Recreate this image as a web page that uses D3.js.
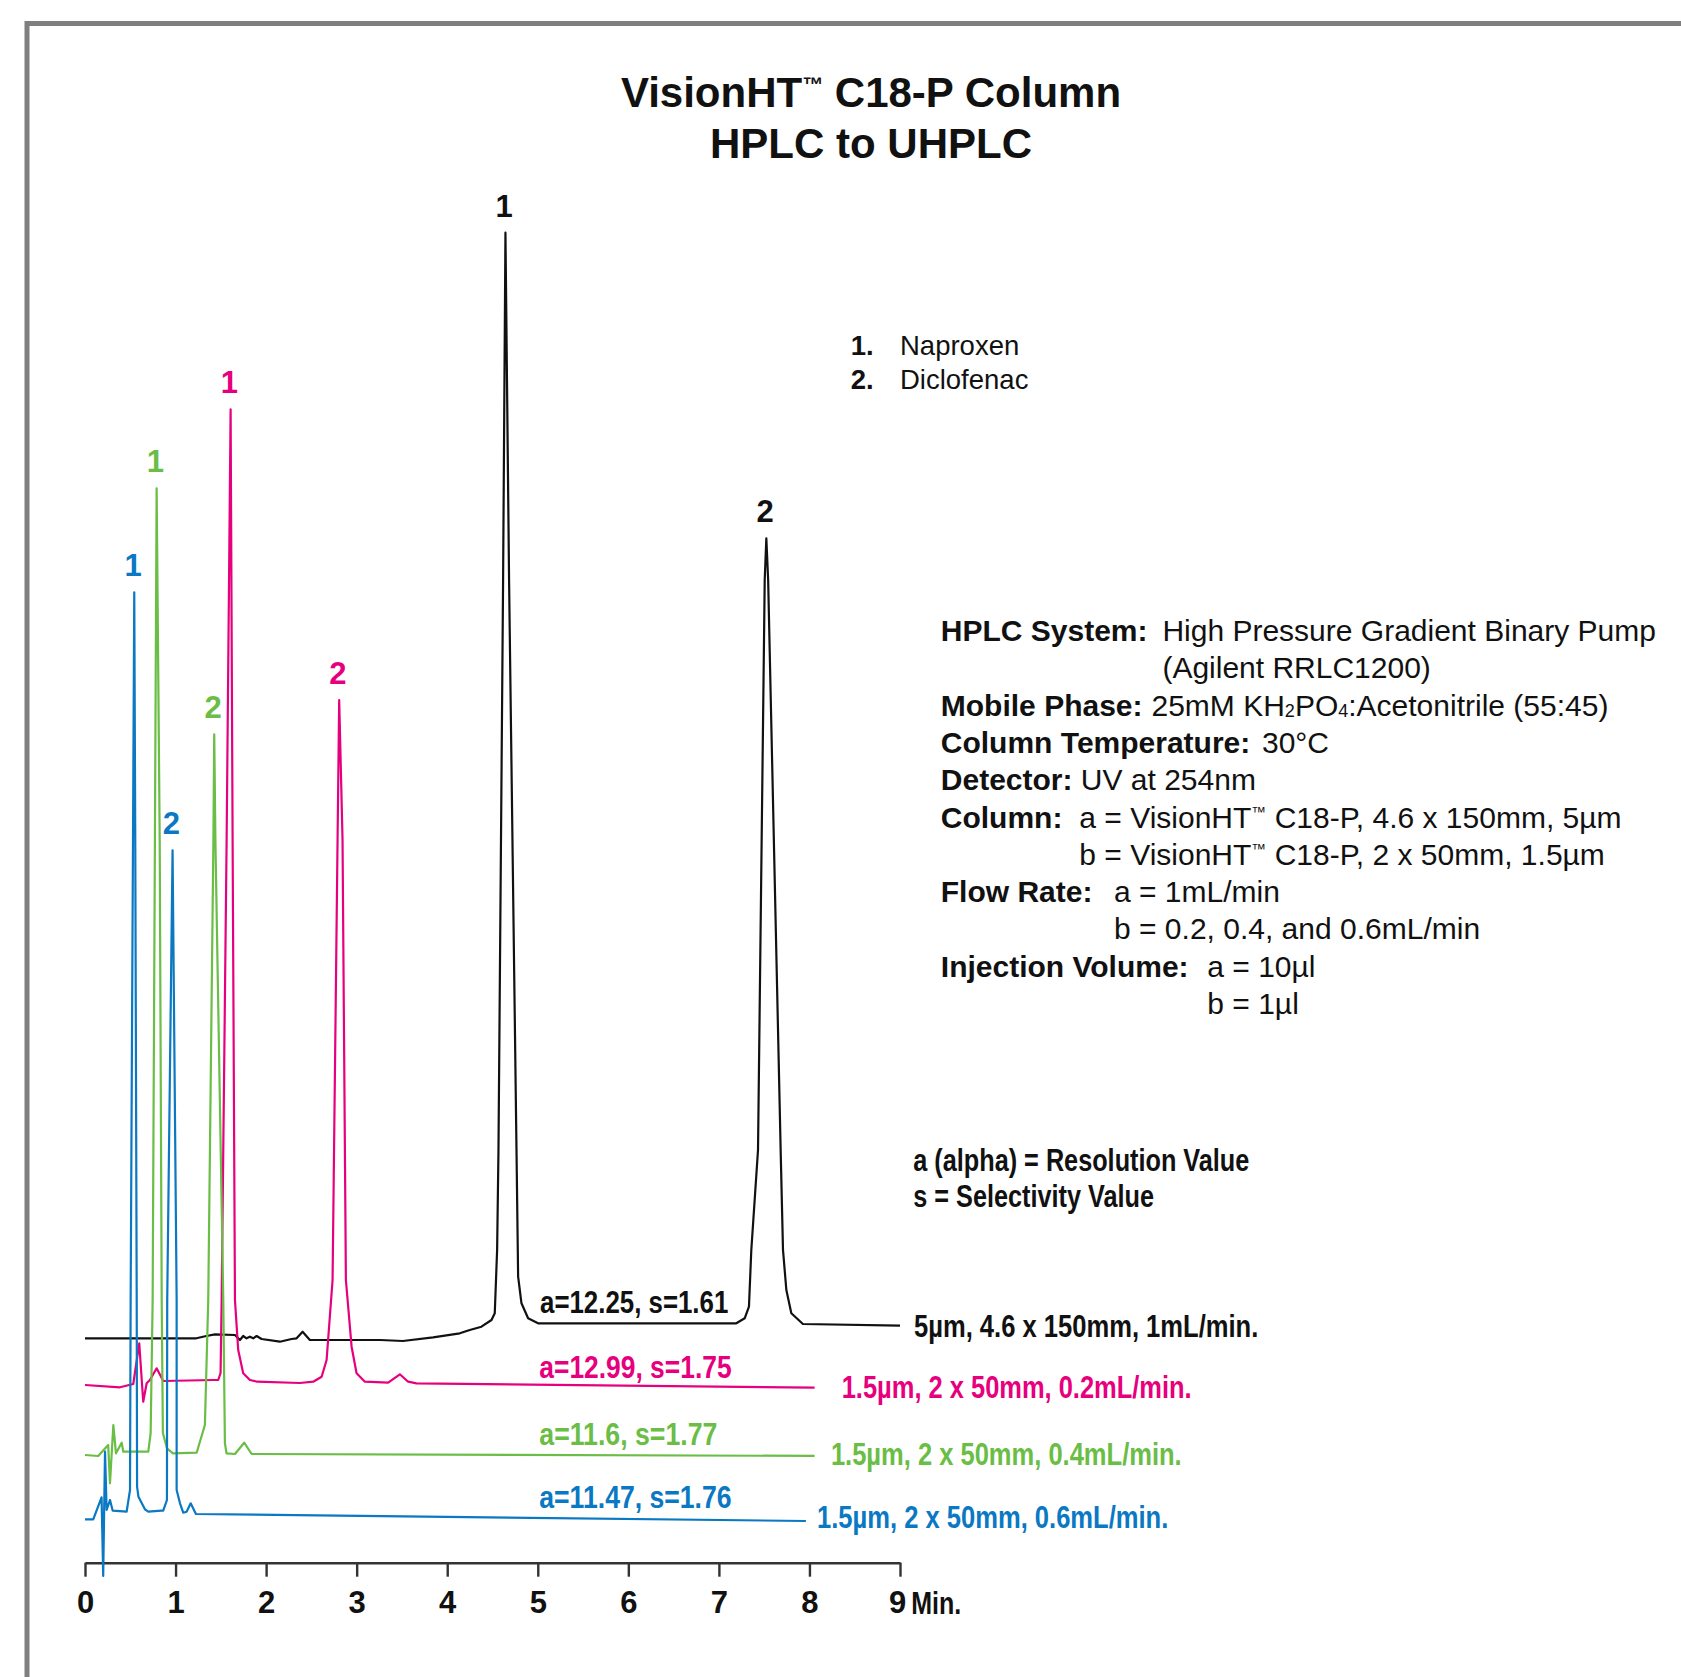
<!DOCTYPE html>
<html><head><meta charset="utf-8">
<script src="https://cdn.jsdelivr.net/npm/d3@7/dist/d3.min.js"></script>
<style>
html,body{margin:0;padding:0;background:#fff;}
svg{display:block;}
</style></head>
<body>
<svg id="chart" width="1681" height="1677"></svg>
<script>
// ================= DATA =================
const seriesNames = [
  "5µm, 4.6 x 150mm, 1mL/min.",
  "1.5µm, 2 x 50mm, 0.2mL/min.",
  "1.5µm, 2 x 50mm, 0.4mL/min.",
  "1.5µm, 2 x 50mm, 0.6mL/min."
];
const resolutionLabels = ["a=12.25, s=1.61", "a=12.99, s=1.75", "a=11.6, s=1.77", "a=11.47, s=1.76"];
const compounds = ["Naproxen", "Diclofenac"];
const xTickValues = [0, 1, 2, 3, 4, 5, 6, 7, 8, 9];
const xUnit = "Min.";

// vertical offset of each trace baseline (stacked display, signal units)
const traceOffsets = [224.4, 177.7, 107.7, 43.4];

// retention times of peak 1 (Naproxen) and peak 2 (Diclofenac) per trace
const peakTimes = [[4.643, 7.524], [1.608, 2.807], [0.791, 1.427], [0.544, 0.967]];

// [time (min), signal]
const trace5um = [[0,0],[1.23,0],[1.34,2.3],[1.435,4],[1.656,3.3],[1.711,-1.7],[1.747,2.3],[1.784,0],[1.821,1.6],[1.858,0],[1.895,2.3],[1.95,-0.7],[2.152,-3.4],[2.281,-0.7],[2.337,0],[2.403,6.6],[2.483,-1.7],[3.26,-1.7],[3.51,-2.7],[3.844,1],[4.139,5],[4.249,8.3],[4.378,11.6],[4.489,18.3],[4.525,25],[4.551,88.3],[4.566,188.3],[4.617,758.3],[4.643,1105.6],[4.683,758.3],[4.765,188.3],[4.783,61.6],[4.82,35],[4.893,20],[5.003,15],[7.193,15],[7.285,20],[7.332,31.6],[7.358,88.3],[7.432,188.3],[7.506,758.3],[7.524,800],[7.544,758.3],[7.682,188.3],[7.708,88.3],[7.745,48.3],[7.8,25],[7.928,14.3],[9.0,12.6]];
const trace02 = [[0,0],[0.386,-2.3],[0.533,1],[0.599,41.7],[0.643,-16.7],[0.681,1.7],[0.717,5],[0.791,16.7],[0.864,4],[1.416,5],[1.471,5],[1.497,12],[1.509,85],[1.564,545],[1.608,975.7],[1.63,545],[1.656,85],[1.692,35],[1.747,11.7],[1.821,5],[1.9,3.3],[2.373,2],[2.52,3.3],[2.613,8.3],[2.668,25],[2.734,105],[2.789,545],[2.807,685],[2.844,545],[2.881,105],[2.944,38.3],[2.999,11.7],[3.091,3.3],[3.348,2.3],[3.477,10.7],[3.568,3.3],[3.661,1.7],[8.057,-2.7]];
const trace04 = [[0,0],[0.146,-1],[0.256,10],[0.276,-28.3],[0.313,30],[0.342,1.7],[0.405,12.3],[0.423,3.3],[0.699,3.3],[0.725,22],[0.747,155],[0.772,615],[0.791,966.7],[0.825,615],[0.847,155],[0.86,22],[0.905,6.7],[0.971,1.7],[1.233,2.3],[1.324,30],[1.361,155],[1.418,615],[1.427,720.7],[1.44,615],[1.527,155],[1.545,11.7],[1.563,1.7],[1.656,1],[1.758,12.3],[1.84,1],[8.057,-0.9]];
const trace06 = [[0,0],[0.091,0],[0.183,22],[0.201,-56.7],[0.221,67.6],[0.239,9.3],[0.276,19.3],[0.306,8.6],[0.46,7.6],[0.497,29.3],[0.504,219.3],[0.53,679.3],[0.544,927],[0.555,679.3],[0.571,219.3],[0.575,32.6],[0.59,22.6],[0.662,10],[0.699,7.6],[0.846,8.6],[0.864,8.6],[0.905,19.3],[0.908,219.3],[0.967,669],[1.012,219.3],[1.012,29.3],[1.049,16],[1.085,6.6],[1.122,7.6],[1.167,16],[1.225,5.3],[7.961,-1.7]];
const traces = [trace5um, trace02, trace04, trace06];

const titleLines = ["VisionHT™ C18-P Column", "HPLC to UHPLC"];
const conditionLabels = ["HPLC System:", "", "Mobile Phase:", "Column Temperature:", "Detector:", "Column:", "", "Flow Rate:", "", "Injection Volume:", ""];
const conditionValues = [
  "High Pressure Gradient Binary Pump",
  "(Agilent RRLC1200)",
  "25mM KH₂PO₄:Acetonitrile (55:45)",
  "30°C",
  "UV at 254nm",
  "a = VisionHT™ C18-P, 4.6 x 150mm, 5µm",
  "b = VisionHT™ C18-P, 2 x 50mm, 1.5µm",
  "a = 1mL/min",
  "b = 0.2, 0.4, and 0.6mL/min",
  "a = 10µl",
  "b = 1µl"
];
const noteLines = ["a (alpha) = Resolution Value", "s = Selectivity Value"];

// ================= STYLE / LAYOUT =================
const colors = ["#111111", "#e6007e", "#6abd45", "#0a78c2"];
const SANS = "'Liberation Sans', Arial, Helvetica, sans-serif";
const COND = "'Liberation Sans Narrow', 'Liberation Sans', Arial, sans-serif";
const CS = 31; // condensed label font size
const layout = {
  xRange: [85, 900], yRange: [1562.7, 232.7], yDomain: [0, 1330],
  seriesLabelX: [914, 841.7, 830.9, 817],
  seriesLabelY: [1336.5, 1397.5, 1464.5, 1528],
  seriesLabelW: [344.3, 350, 350.8, 351.3],
  resLabelX: [540, 539.3, 539.3, 539.3],
  resLabelY: [1313, 1378, 1444.5, 1508],
  resLabelW: [188.3, 192.3, 178, 192.3],
  condValueX: [1162.4, 1162.4, 1151.5, 1262, 1080.8, 1079.3, 1079.3, 1114, 1114, 1207.3, 1207.3],
  condX: 940.8, condY0: 641, condDY: 37.3,
  noteX: 913.3, noteY: [1171, 1207], noteW: [336, 240.7]
};

const svg = d3.select("#chart");

// frame
svg.append("path").attr("d", "M27,1677V23.5H1681")
  .attr("fill", "none").attr("stroke", "#7f7f7f").attr("stroke-width", 5);

const x = d3.scaleLinear().domain([0, 9]).range(layout.xRange);
const y = d3.scaleLinear().domain(layout.yDomain).range(layout.yRange);
const line = d3.line().x(d => x(d[0])).y(d => y(d[1]));

// rich text helper: ™ superscript, ₂ ₄ subscripts
function rich(textSel, str, size) {
  const subs = {"₂": "2", "₄": "4"};
  let buf = "", pending = 0;
  const flush = () => {
    if (buf) {
      const ts = textSel.append("tspan").text(buf);
      if (pending) ts.attr("dy", pending);
      pending = 0; buf = "";
    }
  };
  for (const ch of str) {
    if (ch === "™") {
      flush();
      const up = size * 0.36;
      textSel.append("tspan").attr("font-size", size * 0.5).attr("dy", -up + pending).text("™");
      pending = up;
    } else if (subs[ch]) {
      flush();
      const dn = size * 0.03;
      textSel.append("tspan").attr("font-size", size * 0.6).attr("dy", dn + pending).text(subs[ch]);
      pending = -dn;
    } else buf += ch;
  }
  flush();
}

// title
titleLines.forEach((t, i) => {
  const tx = svg.append("text").attr("x", 871).attr("y", [107, 157.6][i])
    .attr("text-anchor", "middle").attr("font-family", SANS).attr("font-weight", "bold")
    .attr("font-size", 42).attr("fill", "#111");
  rich(tx, t, 42);
});

// axis
const axis = d3.axisBottom(x).tickValues(xTickValues).tickSize(14).tickSizeOuter(0).tickPadding(14);
const gA = svg.append("g").attr("transform", `translate(0,${layout.yRange[0]})`).call(axis);
gA.select(".domain").attr("stroke", "#333").attr("stroke-width", 2.4);
gA.selectAll(".tick line").attr("stroke", "#333").attr("stroke-width", 2.4);
gA.selectAll(".tick text").attr("font-family", COND).attr("font-weight", "bold")
  .attr("font-size", CS).attr("fill", "#111")
  .attr("dx", d => d === 9 ? -3 : 0);
svg.append("text").attr("x", x(9) + 11.3).attr("y", 1613.5).attr("font-family", COND)
  .attr("font-weight", "bold").attr("font-size", CS).attr("fill", "#111")
  .attr("textLength", 50).attr("lengthAdjust", "spacingAndGlyphs").text(xUnit);

// traces
traces.forEach((tr, i) => {
  const pts = tr.map(d => [d[0], d[1] + traceOffsets[i]]);
  svg.append("path").datum(pts).attr("d", line).attr("fill", "none")
    .attr("stroke", colors[i]).attr("stroke-width", i === 0 ? 2.2 : 2.2)
    .attr("stroke-linejoin", "round");
  // peak numbers
  peakTimes[i].forEach((pt, k) => {
    const apex = d3.least(tr, d => Math.abs(d[0] - pt));
    svg.append("text").attr("x", x(apex[0]) - 1.2).attr("y", y(apex[1] + traceOffsets[i]) - 16)
      .attr("text-anchor", "middle").attr("font-family", COND).attr("font-weight", "bold")
      .attr("font-size", CS).attr("fill", colors[i]).text(String(k + 1));
  });
  // resolution labels
  svg.append("text").attr("x", layout.resLabelX[i]).attr("y", layout.resLabelY[i])
    .attr("font-family", COND).attr("font-weight", "bold").attr("font-size", CS)
    .attr("fill", colors[i]).attr("textLength", layout.resLabelW[i])
    .attr("lengthAdjust", "spacingAndGlyphs").text(resolutionLabels[i]);
  // series labels
  svg.append("text").attr("x", layout.seriesLabelX[i]).attr("y", layout.seriesLabelY[i])
    .attr("font-family", COND).attr("font-weight", "bold").attr("font-size", CS)
    .attr("fill", colors[i]).attr("textLength", layout.seriesLabelW[i])
    .attr("lengthAdjust", "spacingAndGlyphs").text(seriesNames[i]);
});

// compound legend
compounds.forEach((c, i) => {
  const yy = [355, 389][i];
  svg.append("text").attr("x", 850.7).attr("y", yy).attr("font-family", SANS)
    .attr("font-weight", "bold").attr("font-size", 27.5).attr("fill", "#111").text((i + 1) + ".");
  svg.append("text").attr("x", 900).attr("y", yy).attr("font-family", SANS)
    .attr("font-size", 27.5).attr("fill", "#111").text(c);
});

// conditions block
conditionValues.forEach((v, i) => {
  const yy = layout.condY0 + layout.condDY * i;
  if (conditionLabels[i]) {
    svg.append("text").attr("x", layout.condX).attr("y", yy).attr("font-family", SANS)
      .attr("font-weight", "bold").attr("font-size", 30).attr("fill", "#111").text(conditionLabels[i]);
  }
  const tv = svg.append("text").attr("x", layout.condValueX[i]).attr("y", yy)
    .attr("font-family", SANS).attr("font-size", 30).attr("fill", "#111");
  rich(tv, v, 30);
});

// note
noteLines.forEach((n, i) => {
  svg.append("text").attr("x", layout.noteX).attr("y", layout.noteY[i])
    .attr("font-family", COND).attr("font-weight", "bold").attr("font-size", CS)
    .attr("fill", "#111").attr("textLength", layout.noteW[i])
    .attr("lengthAdjust", "spacingAndGlyphs").text(n);
});
</script>
</body></html>
